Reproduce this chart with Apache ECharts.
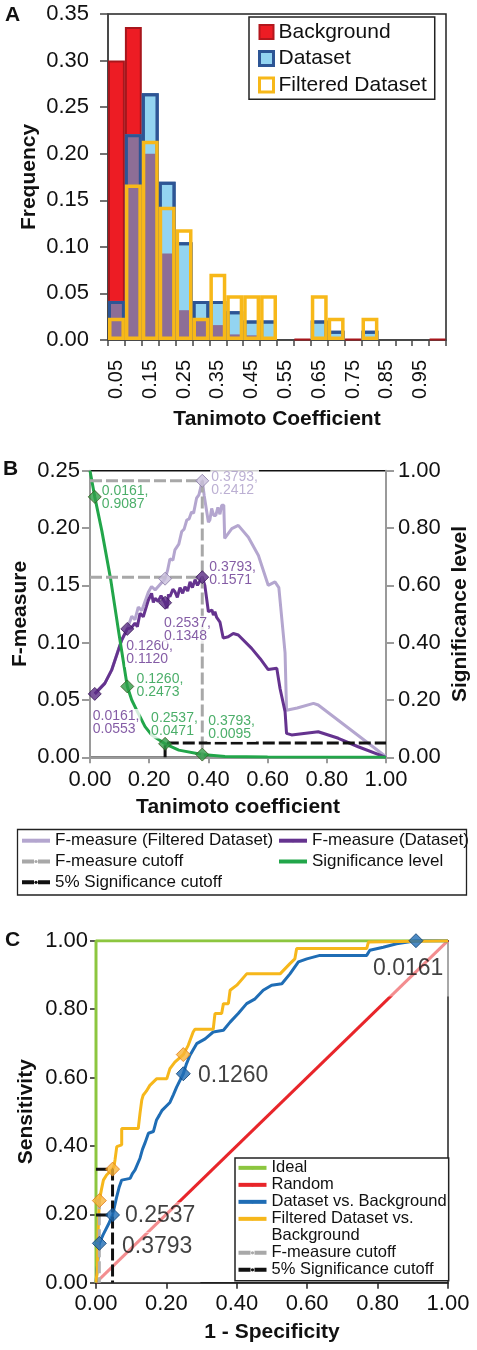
<!DOCTYPE html>
<html><head><meta charset="utf-8">
<script src="https://cdn.jsdelivr.net/npm/echarts/dist/echarts.min.js"></script>
<style>html,body{margin:0;padding:0;background:#fff}#c{width:477px;height:1350px}</style>
</head><body><div id="c"></div>
<script>
// ---------------- Panel A: histogram ----------------
const binLabels = ['0.05','0.10','0.15','0.20','0.25','0.30','0.35','0.40','0.45','0.50','0.55','0.60','0.65','0.70','0.75','0.80','0.85','0.90','0.95','1.00'];
const backgroundFreq = [0.300,0.336,0.200,0.093,0.032,0.021,0.016,0.006,0.005,0.003,0,0.001,0,0,0.001,0,0,0,0,0.001];
const datasetFreq    = [0.042,0.221,0.265,0.170,0.105,0.042,0.042,0.031,0.021,0.021,0,0,0.021,0.010,0,0.010,0,0,0,0];
const filteredFreq   = [0.024,0.167,0.214,0.143,0.119,0.024,0.071,0.048,0.048,0.048,0,0,0.048,0.024,0,0.024,0,0,0,0];

// ---------------- Panel B: F-measure & significance ----------------
const fmFilteredT = [0.0161,0.05,0.073,0.096,0.107,0.126,0.141,0.152,0.163,0.175,0.197,0.208,0.22,0.2537,0.262,0.27,0.28,0.287,0.30,0.31,0.318,0.327,0.335,0.343,0.35,0.36,0.368,0.3793,0.386,0.40,0.405,0.411,0.418,0.425,0.432,0.439,0.445,0.452,0.455,0.479,0.501,0.535,0.569,0.602,0.625,0.631,0.638,0.659,0.664,0.70,0.755,0.771,1.0];
const fmFilteredV = [0.0553,0.0645,0.076,0.094,0.102,0.112,0.123,0.120,0.131,0.128,0.144,0.149,0.146,0.1558,0.163,0.173,0.172,0.181,0.186,0.197,0.199,0.207,0.208,0.214,0.213,0.226,0.229,0.2412,0.228,0.205,0.207,0.217,0.211,0.211,0.218,0.212,0.2198,0.2198,0.191,0.1994,0.2023,0.192,0.176,0.150,0.153,0.1544,0.148,0.091,0.041,0.043,0.047,0.0456,0.0005];
const fmDatasetT = [0.0161,0.05,0.073,0.096,0.107,0.126,0.14,0.152,0.16,0.169,0.18,0.19,0.197,0.208,0.214,0.22,0.23,0.24,0.2537,0.26,0.265,0.27,0.28,0.287,0.295,0.304,0.313,0.321,0.33,0.338,0.346,0.355,0.363,0.3793,0.388,0.394,0.40,0.405,0.412,0.417,0.422,0.428,0.434,0.439,0.445,0.45,0.456,0.467,0.484,0.501,0.546,0.575,0.602,0.631,0.642,0.659,0.664,0.681,0.771,0.839,0.906,1.0];
const fmDatasetV = [0.0553,0.0645,0.076,0.0936,0.1023,0.1120,0.113,0.117,0.114,0.1256,0.1226,0.131,0.137,0.143,0.135,0.1387,0.136,0.141,0.1348,0.130,0.142,0.140,0.1465,0.1444,0.1395,0.148,0.143,0.1488,0.145,0.153,0.148,0.155,0.150,0.1571,0.150,0.1488,0.127,0.1256,0.1285,0.124,0.127,0.122,0.1226,0.118,0.1185,0.104,0.1038,0.1052,0.108,0.1067,0.095,0.086,0.0765,0.0776,0.060,0.0398,0.0209,0.0195,0.0223,0.0166,0.0092,0.0];
const sigT = [0,0.0161,0.04,0.07,0.098,0.126,0.141,0.163,0.186,0.208,0.2537,0.30,0.3793,0.456,0.60,1.0];
const sigV = [1.0,0.9087,0.79,0.62,0.43,0.2473,0.200,0.1535,0.107,0.078,0.0471,0.025,0.0095,0.003,0.001,0.0];
const cutoffT      = [0.0161,0.1260,0.2537,0.3793];
const sigAtCutoff  = [0.9087,0.2473,0.0471,0.0095];
const fmDatasetAtCutoff  = [0.0553,0.1120,0.1348,0.1571];
const fmFilteredAtCutoff = [null,null,0.1558,0.2412];
const sig5pct = 0.05;

// ---------------- Panel C: ROC ----------------
const rocDatasetFpr = [0,0.005,0.0095,0.02,0.035,0.047,0.052,0.059,0.066,0.073,0.097,0.104,0.111,0.125,0.132,0.139,0.149,0.163,0.172,0.18,0.187,0.21,0.22,0.229,0.248,0.257,0.267,0.286,0.31,0.333,0.362,0.381,0.404,0.428,0.452,0.475,0.499,0.528,0.551,0.575,0.599,0.636,0.769,0.778,0.816,0.854,0.909,1.0];
const rocDatasetTpr = [0,0.06,0.115,0.14,0.17,0.198,0.22,0.252,0.28,0.30,0.305,0.32,0.33,0.364,0.39,0.408,0.437,0.442,0.476,0.49,0.503,0.527,0.55,0.572,0.611,0.64,0.665,0.699,0.713,0.733,0.738,0.762,0.787,0.816,0.83,0.855,0.87,0.874,0.903,0.938,0.947,0.957,0.957,0.972,0.981,0.991,1.0,1.0];
const rocFilteredFpr = [0,0.004,0.006,0.0095,0.015,0.021,0.03,0.047,0.051,0.054,0.059,0.073,0.073,0.12,0.125,0.13,0.134,0.143,0.153,0.172,0.201,0.21,0.224,0.248,0.262,0.276,0.281,0.333,0.338,0.357,0.362,0.376,0.381,0.40,0.428,0.523,0.551,0.565,0.57,0.769,0.774,1.0];
const rocFilteredTpr = [0,0.04,0.15,0.24,0.27,0.30,0.315,0.332,0.34,0.359,0.398,0.403,0.451,0.451,0.495,0.534,0.548,0.56,0.577,0.596,0.596,0.626,0.645,0.667,0.694,0.733,0.741,0.741,0.787,0.787,0.816,0.816,0.855,0.87,0.903,0.903,0.933,0.947,0.977,0.977,0.996,1.0];
const idealFpr = [0,0,1], idealTpr = [0,1,1];
const randomFpr = [0,1], randomTpr = [0,1];
const rocCutoffLabels = ['0.0161','0.1260','0.2537','0.3793'];
const rocDatasetAtCutoffFpr = [0.909,0.248,0.047,0.0095];
const rocDatasetAtCutoffTpr = [1.0,0.611,0.198,0.115];
const rocFilteredAtCutoffFpr = [null,0.248,0.047,0.0095];
const rocFilteredAtCutoffTpr = [null,0.667,0.332,0.24];

// ---------------- helpers ----------------
const zip = (a,b) => a.map((v,i)=>[v,b[i]]);
const nz = a => a.map(v => v > 0 ? v : null);
const overlapFreq = backgroundFreq.map((r,i)=> (r>0 && datasetFreq[i]>0) ? Math.min(r, datasetFreq[i]) : null);
const FONT = 'Liberation Sans, Arial, Helvetica, sans-serif';
const f2 = v => v.toFixed(2);
const pairText = (a,b) => a.toFixed(4) + ',\n' + b.toFixed(4);

// label placement styles (pixel offsets from the marker centre)
const bSigLab = [[6,0.5],[8.3,-0.7],[-15,-19.3],[5,-26.6]];
const bDsLab  = [[-3,29],[-2,24],[-2,27],[6,-3.7]];
const bFiLab  = [null,null,null,[8,3]];
const cLab = [
  {d:[-46,1.3], align:'left', va:'top', pad:[15,6,16.5,3]},
  {d:[14.7,2.3], align:'left', va:'middle', pad:[0,0,0,0]},
  {d:[0.5,-13], align:'left', va:'top', pad:[2.5,3,5.5,12]},
  {d:[-3.3,-11.4], align:'left', va:'top', pad:[3.5,8,24,26]}
];

function labelSeries(xIdx, yIdx, xs, ys, texts, offs, color, fontSize, lh, extra, z) {
  const data = [];
  xs.forEach((x,i)=>{
    if (ys[i] == null || offs[i] == null) return;
    const o = offs[i];
    const d = Array.isArray(o) ? {d:o, align:'left', va:'middle', pad:[1,1,1,1]} : o;
    data.push({value:[x, ys[i]], label:{show:true, position:[d.d[0]+1, d.d[1]+1], align:d.align, verticalAlign:d.va,
      padding:d.pad, formatter: texts[i]}});
  });
  return {type:'scatter', xAxisIndex:xIdx, yAxisIndex:yIdx, symbol:'circle', symbolSize:2, silent:true, z:z,
    itemStyle:{color:'rgba(0,0,0,0)'}, data:data,
    label:Object.assign({color:color, fontSize:fontSize, lineHeight:lh, fontFamily:FONT}, extra)};
}

const axisNameStyle = {fontSize:21, fontWeight:'bold', color:'#111', fontFamily:FONT};
const tickLab = (size, margin) => ({fontSize:size, color:'#111', fontFamily:FONT, margin:margin, formatter:f2});
const DASH = [12,4];

const option = {
  animation:false,
  backgroundColor:'#fff',
  textStyle:{fontFamily:FONT},
  grid:[
    {left:108, top:14, width:338, height:326, show:true, borderColor:'#222', borderWidth:1.5, containLabel:false, outerBoundsMode:'none'},
    {left:90, top:470.7, width:296, height:286.6, show:true, borderColor:'#111', borderWidth:1.5, containLabel:false, outerBoundsMode:'none'},
    {left:96, top:940.7, width:352, height:342, show:true, borderColor:'#222', borderWidth:1.5, containLabel:false, outerBoundsMode:'none'}
  ],
  xAxis:[
    {gridIndex:0, type:'category', data:binLabels, boundaryGap:true,
     axisLine:{show:true, lineStyle:{color:'#444', width:1.5}},
     axisTick:{show:true, interval:0, length:6, lineStyle:{color:'#444', width:1.5}},
     axisLabel:{interval:1, rotate:90, margin:20, fontSize:20, color:'#111', fontFamily:FONT},
     splitLine:{show:false},
     name:'Tanimoto Coefficient', nameLocation:'middle', nameGap:69, nameMoveOverlap:false, nameTextStyle:axisNameStyle},
    {gridIndex:1, type:'value', min:0, max:1, interval:0.2,
     axisLine:{show:true, onZero:false, lineStyle:{color:'#9a9a9a', width:2}},
     axisTick:{show:true, length:6, lineStyle:{color:'#9a9a9a', width:2}},
     axisLabel:tickLab(22, 12), splitLine:{show:false},
     name:'Tanimoto coefficient', nameLocation:'middle', nameGap:39, nameMoveOverlap:false, nameTextStyle:axisNameStyle},
    {gridIndex:2, type:'value', min:0, max:1, interval:0.2,
     axisLine:{show:true, onZero:false, lineStyle:{color:'#222', width:1.5}},
     axisTick:{show:true, length:6, lineStyle:{color:'#222', width:1.5}},
     axisLabel:tickLab(22, 10), splitLine:{show:false},
     name:'1 - Specificity', nameLocation:'middle', nameGap:39, nameMoveOverlap:false, nameTextStyle:axisNameStyle}
  ],
  yAxis:[
    {gridIndex:0, type:'value', min:0, max:0.35, interval:0.05,
     axisLine:{show:true, lineStyle:{color:'#444', width:1.5}},
     axisTick:{show:true, length:8, lineStyle:{color:'#444', width:1.5}},
     axisLabel:tickLab(22, 19), splitLine:{show:false},
     name:'Frequency', nameLocation:'middle', nameGap:68, nameMoveOverlap:false, nameTextStyle:axisNameStyle},
    {gridIndex:1, type:'value', position:'left', min:0, max:0.25, interval:0.05,
     axisLine:{show:true, lineStyle:{color:'#9a9a9a', width:2}},
     axisTick:{show:true, length:8, lineStyle:{color:'#9a9a9a', width:2}},
     axisLabel:tickLab(22, 10), splitLine:{show:false},
     name:'F-measure', nameLocation:'middle', nameGap:59, nameMoveOverlap:false, nameTextStyle:axisNameStyle},
    {gridIndex:1, type:'value', position:'right', min:0, max:1, interval:0.2,
     axisLine:{show:true, lineStyle:{color:'#9a9a9a', width:2}},
     axisTick:{show:true, length:8, lineStyle:{color:'#9a9a9a', width:2}},
     axisLabel:tickLab(22, 12), splitLine:{show:false},
     name:'Significance level', nameLocation:'middle', nameGap:64, nameMoveOverlap:false, nameTextStyle:axisNameStyle},
    {gridIndex:2, type:'value', min:0, max:1, interval:0.2,
     axisLine:{show:true, lineStyle:{color:'#222', width:1.5}},
     axisTick:{show:true, length:6, lineStyle:{color:'#222', width:1.5}},
     axisLabel:tickLab(22, 8), splitLine:{show:false},
     name:'Sensitivity', nameLocation:'middle', nameGap:59, nameMoveOverlap:false, nameTextStyle:axisNameStyle}
  ],
  legend:[
    {selectedMode:false, orient:'vertical', left:249, top:17, padding:[1.75,8,1,9], itemGap:0,
     itemWidth:14, itemHeight:14, borderColor:'#222', borderWidth:1.5, backgroundColor:'#fff',
     textStyle:{fontSize:21, lineHeight:26.5, color:'#111', fontFamily:FONT},
     data:[
       {name:'Background', icon:'rect', itemStyle:{color:'#ed1c24', borderColor:'#b3171d', borderWidth:2}},
       {name:'Dataset', icon:'rect', itemStyle:{color:'#93d4f1', borderColor:'#2d5595', borderWidth:3}},
       {name:'Filtered Dataset', icon:'rect', itemStyle:{color:'#ffffff', borderColor:'#f7b819', borderWidth:3}}
     ]},
    {selectedMode:false, orient:'vertical', left:20, top:830.3, padding:0, itemGap:0,
     itemWidth:28, itemHeight:4, lineStyle:{width:4},
     textStyle:{fontSize:17, lineHeight:20.8, color:'#111', fontFamily:FONT},
     data:['F-measure (Filtered Dataset)','F-measure cutoff','5% Significance cutoff']},
    {selectedMode:false, orient:'vertical', left:277, top:830.3, padding:0, itemGap:0,
     itemWidth:28, itemHeight:4, lineStyle:{width:4},
     textStyle:{fontSize:17, lineHeight:20.8, color:'#111', fontFamily:FONT},
     data:['F-measure (Dataset)','Significance level']},
    {selectedMode:false, orient:'vertical', left:235, top:1158, padding:[1.35,2,2.5,1.5], itemGap:0,
     itemWidth:28, itemHeight:4, lineStyle:{width:4}, borderColor:'#222', borderWidth:1.5, backgroundColor:'#fff',
     textStyle:{fontSize:16.5, lineHeight:16.7, color:'#111', fontFamily:FONT},
     formatter: n => n === 'Filtered Dataset vs. Background' ? 'Filtered Dataset vs.' : n,
     data:['Ideal','Random','Dataset vs. Background','Filtered Dataset vs. Background',
           {name:'Background', icon:'none'}, 'F-measure cutoff','5% Significance cutoff']}
  ],
  graphic:[
    {type:'text', left:5, top:5, style:{text:'A', font:'bold 21px Liberation Sans', fill:'#111'}},
    {type:'text', left:3, top:459, style:{text:'B', font:'bold 21px Liberation Sans', fill:'#111'}},
    {type:'text', left:5, top:930, style:{text:'C', font:'bold 21px Liberation Sans', fill:'#111'}},
    {type:'rect', silent:true, shape:{x:17.5, y:829.5, width:449, height:65.5}, style:{fill:'none', stroke:'#222', lineWidth:1.3}}
  ],
  series:[
    // ---- A ----
    {type:'bar', name:'Background', xAxisIndex:0, yAxisIndex:0, data:nz(backgroundFreq), barGap:'-100%', barCategoryGap:'0%',
     itemStyle:{color:'#ed1c24', borderColor:'#a8161c', borderWidth:2}},
    {type:'bar', name:'Dataset', xAxisIndex:0, yAxisIndex:0, data:nz(datasetFreq), barGap:'-100%', barCategoryGap:'0%',
     itemStyle:{color:'#93d4f1', borderColor:'#2d5595', borderWidth:3}},
    {type:'bar', name:'Overlap', xAxisIndex:0, yAxisIndex:0, data:overlapFreq, barGap:'-100%', barCategoryGap:'0%',
     itemStyle:{color:'#8d6e96'}},
    {type:'bar', name:'Dataset outline', xAxisIndex:0, yAxisIndex:0, data:nz(datasetFreq), barGap:'-100%', barCategoryGap:'0%',
     itemStyle:{color:'rgba(0,0,0,0)', borderColor:'#2d5595', borderWidth:3}},
    {type:'bar', name:'Filtered Dataset', xAxisIndex:0, yAxisIndex:0, data:nz(filteredFreq), barGap:'-100%', barCategoryGap:'0%',
     itemStyle:{color:'rgba(0,0,0,0)', borderColor:'#f7b819', borderWidth:3.5}},

    // ---- B ----
    {type:'line', name:'F-measure (Filtered Dataset)', xAxisIndex:1, yAxisIndex:1, data:zip(fmFilteredT, fmFilteredV),
     symbol:'none', color:'#b4a6cf', lineStyle:{color:'#b4a6cf', width:3}, z:3},
    {type:'line', name:'F-measure (Dataset)', xAxisIndex:1, yAxisIndex:1, data:zip(fmDatasetT, fmDatasetV),
     symbol:'none', color:'#65338f', lineStyle:{color:'#65338f', width:3}, z:3},
    {type:'line', name:'Significance level', xAxisIndex:1, yAxisIndex:2, data:zip(sigT, sigV),
     symbol:'none', color:'#22a64a', lineStyle:{color:'#22a64a', width:3}, z:3},
    {type:'line', name:'F-measure cutoff', xAxisIndex:1, yAxisIndex:1,
     data:[[0, fmFilteredAtCutoff[3]],[cutoffT[3], fmFilteredAtCutoff[3]],[cutoffT[3], 0]],
     symbol:'none', color:'#a8a8a8', lineStyle:{color:'#a8a8a8', width:3, type:DASH}, z:4},
    {type:'line', name:'F-measure cutoff', xAxisIndex:1, yAxisIndex:1,
     data:[[0, fmDatasetAtCutoff[3]],[cutoffT[3], fmDatasetAtCutoff[3]]],
     symbol:'none', color:'#a8a8a8', lineStyle:{color:'#a8a8a8', width:3, type:DASH}, z:4},
    {type:'line', name:'5% Significance cutoff', xAxisIndex:1, yAxisIndex:2,
     data:[[cutoffT[2], 0],[cutoffT[2], sig5pct],[1, sig5pct]],
     symbol:'none', color:'#111', lineStyle:{color:'#111', width:3, type:DASH}, z:4},
    labelSeries(1,2,cutoffT,sigAtCutoff,cutoffT.map((t,i)=>pairText(t,sigAtCutoff[i])),bSigLab,'#1e9a44',14,13,{backgroundColor:'#fff'},5),
    labelSeries(1,1,cutoffT,fmDatasetAtCutoff,cutoffT.map((t,i)=>pairText(t,fmDatasetAtCutoff[i])),bDsLab,'#65338f',14,13,{backgroundColor:'#fff'},5),
    labelSeries(1,1,cutoffT,fmFilteredAtCutoff,cutoffT.map((t,i)=>fmFilteredAtCutoff[i]==null?'':pairText(t,fmFilteredAtCutoff[i])),bFiLab,'#ab9cc8',14,13,{backgroundColor:'#fff'},5),
    {type:'scatter', name:'fm filtered markers', xAxisIndex:1, yAxisIndex:1, symbol:'diamond', symbolSize:13, z:6,
     data:zip(cutoffT, fmFilteredAtCutoff).filter(p=>p[1]!=null),
     itemStyle:{color:'#c9bfdc', borderColor:'#8a7ca6', borderWidth:1}},
    {type:'scatter', name:'fm dataset markers', xAxisIndex:1, yAxisIndex:1, symbol:'diamond', symbolSize:13, z:6,
     data:zip(cutoffT, fmDatasetAtCutoff), itemStyle:{color:'#5a2c84', borderColor:'#3a1a58', borderWidth:1}},
    {type:'scatter', name:'sig markers', xAxisIndex:1, yAxisIndex:2, symbol:'diamond', symbolSize:13, z:6,
     data:zip(cutoffT, sigAtCutoff), itemStyle:{color:'#2f9e48', borderColor:'#3a5a22', borderWidth:1}},

    // ---- C ----
    {type:'line', name:'Random', xAxisIndex:2, yAxisIndex:3, data:zip(randomFpr, randomTpr),
     symbol:'none', color:'#e8252a', lineStyle:{color:'#e8252a', width:3}, z:1},
    labelSeries(2,3,rocDatasetAtCutoffFpr,rocDatasetAtCutoffTpr,rocCutoffLabels,cLab,'#111',23,23,{backgroundColor:'rgba(255,255,255,0.6)'},1.5),
    {type:'line', name:'Ideal', xAxisIndex:2, yAxisIndex:3, data:zip(idealFpr, idealTpr),
     symbol:'none', color:'#8cc63f', lineStyle:{color:'#8cc63f', width:3}, z:3},
    {type:'line', name:'Dataset vs. Background', xAxisIndex:2, yAxisIndex:3, data:zip(rocDatasetFpr, rocDatasetTpr),
     symbol:'none', color:'#1f6db5', lineStyle:{color:'#1f6db5', width:3}, z:3},
    {type:'line', name:'Filtered Dataset vs. Background', xAxisIndex:2, yAxisIndex:3, data:zip(rocFilteredFpr, rocFilteredTpr),
     symbol:'none', color:'#f6b71b', lineStyle:{color:'#f6b71b', width:3}, z:3},
    {type:'line', name:'F-measure cutoff', xAxisIndex:2, yAxisIndex:3,
     data:[[0, rocFilteredAtCutoffTpr[3]],[rocFilteredAtCutoffFpr[3], rocFilteredAtCutoffTpr[3]],[rocFilteredAtCutoffFpr[3], 0]],
     symbol:'none', color:'#a8a8a8', lineStyle:{color:'#b0b0b0', width:3, type:DASH}, z:4},
    {type:'line', name:'F-measure cutoff', xAxisIndex:2, yAxisIndex:3,
     data:[[0, rocDatasetAtCutoffTpr[3]],[rocDatasetAtCutoffFpr[3], rocDatasetAtCutoffTpr[3]]],
     symbol:'none', color:'#a8a8a8', lineStyle:{color:'#b0b0b0', width:3, type:DASH}, z:4},
    {type:'line', name:'5% Significance cutoff', xAxisIndex:2, yAxisIndex:3,
     data:[[0, rocFilteredAtCutoffTpr[2]],[rocFilteredAtCutoffFpr[2], rocFilteredAtCutoffTpr[2]],[rocFilteredAtCutoffFpr[2], 0]],
     symbol:'none', color:'#111', lineStyle:{color:'#111', width:3, type:DASH}, z:4},
    {type:'line', name:'5% Significance cutoff', xAxisIndex:2, yAxisIndex:3,
     data:[[0, rocDatasetAtCutoffTpr[2]],[rocDatasetAtCutoffFpr[2], rocDatasetAtCutoffTpr[2]]],
     symbol:'none', color:'#111', lineStyle:{color:'#111', width:3, type:DASH}, z:4},
    {type:'scatter', name:'roc filtered markers', xAxisIndex:2, yAxisIndex:3, symbol:'diamond', symbolSize:14, z:6,
     data:zip(rocFilteredAtCutoffFpr, rocFilteredAtCutoffTpr).filter(p=>p[0]!=null),
     itemStyle:{color:'#f9b437', borderColor:'#e07a1c', borderWidth:1}},
    {type:'scatter', name:'roc dataset markers', xAxisIndex:2, yAxisIndex:3, symbol:'diamond', symbolSize:14, z:6,
     data:zip(rocDatasetAtCutoffFpr, rocDatasetAtCutoffTpr),
     itemStyle:{color:'#1f6db5', borderColor:'#0d3f70', borderWidth:1}}
  ]
};

const chart = echarts.init(document.getElementById('c'), null, {renderer:'canvas'});
chart.setOption(option);
</script></body></html>
